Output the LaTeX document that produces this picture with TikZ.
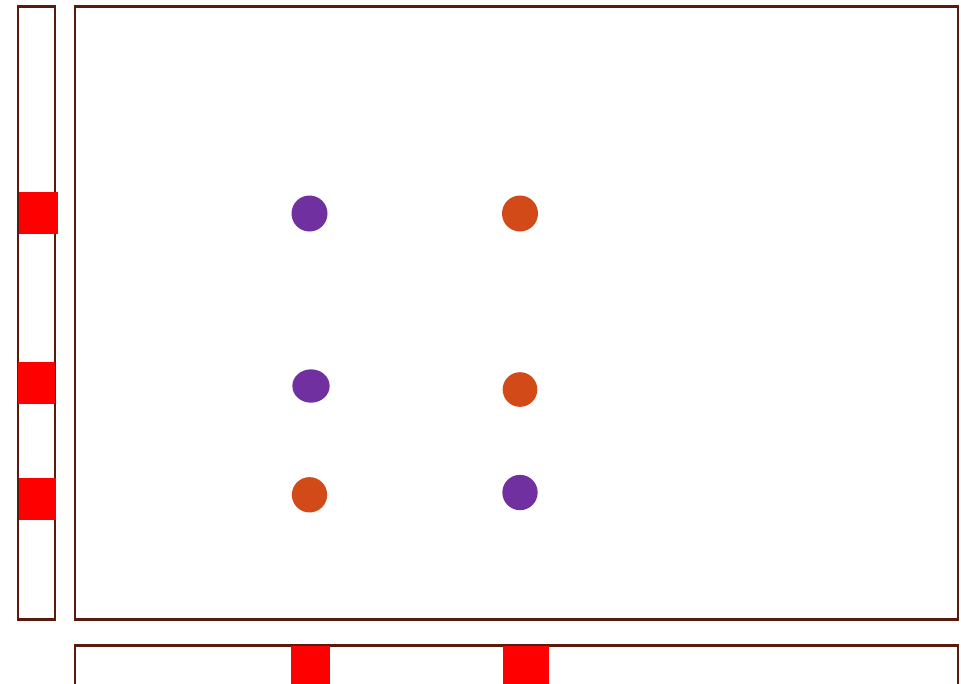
\documentclass[tikz,border=0pt]{standalone}
\usetikzlibrary{shapes.geometric}
\definecolor{framebrown}{HTML}{5A1A0C}
\definecolor{dotpurple}{HTML}{7030A0}
\definecolor{dotorange}{HTML}{D24A18}
\definecolor{markred}{HTML}{FF0000}
\tikzset{
  frame/.style={draw=framebrown, line width=1.6pt, fill=none, inner sep=0pt, outer sep=0pt},
  marker/.style={fill=markred, draw=none, inner sep=0pt, outer sep=0pt},
  pdot/.style={circle, fill=dotpurple, draw=none, inner sep=0pt, minimum size=27pt},
  odot/.style={circle, fill=dotorange, draw=none, inner sep=0pt, minimum size=27pt},
}
\begin{document}
\begin{tikzpicture}[x=0.75pt, y=-0.75pt]
\useasboundingbox (0,0) rectangle (961,683);
\clip (0,0) rectangle (961,683);
% left strip
\node[frame, minimum width=27.75pt, minimum height=459.75pt] (strip) at (36.5,313) {};
% main box
\node[frame, minimum width=662.25pt, minimum height=459.75pt] (main) at (516.5,313) {};
% bottom box (cut off by the picture's lower edge)
\coordinate (bl) at (75,700);
\coordinate (br) at (958,700);
\draw[framebrown, line width=1.6pt] (bl) |- (958,645.5) coordinate (btr) -- (br);
% red markers on the left strip
\node[marker, minimum width=29.25pt, minimum height=31.5pt] (m1) at (38.5,213) {};
\node[marker, minimum width=27.75pt, minimum height=31.5pt] (m2) at (36.5,383) {};
\node[marker, minimum width=27.75pt, minimum height=31.5pt] (m3) at (37.5,499) {};
% red markers on the bottom box
\node[marker, minimum width=29.25pt, minimum height=33pt] (m4) at (310.5,668) {};
\node[marker, minimum width=34.5pt, minimum height=33pt] (m5) at (526,668) {};
% dots
\node[pdot] (p1) at (309.5,213.5) {};
\node[odot] (o1) at (520,213.5) {};
\node[pdot, ellipse, minimum width=28pt, minimum height=25pt] (p2) at (311,386) {};
\node[odot, minimum size=26pt] (o2) at (520,389.5) {};
\node[odot, minimum size=26.5pt] (o3) at (309.5,494.8) {};
\node[pdot, minimum size=26.5pt] (p3) at (520,492.5) {};
\end{tikzpicture}
\end{document}
